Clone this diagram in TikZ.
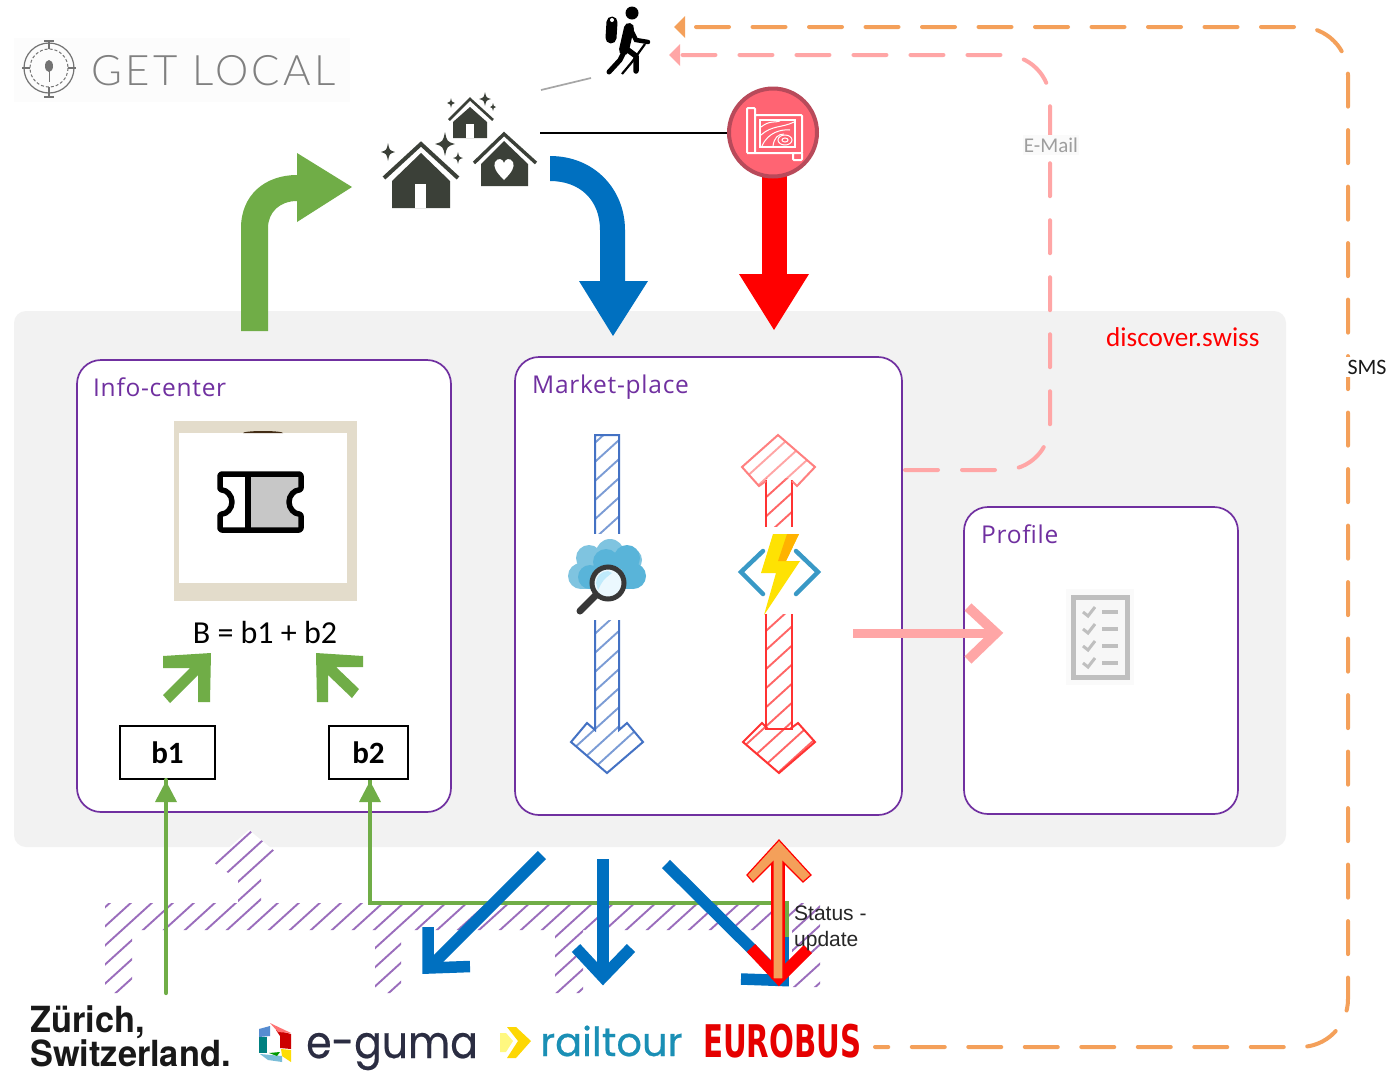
\documentclass[tikz,border=0pt]{standalone}
\usepackage{fontspec}
\usepackage{graphicx}
\setmainfont{Open Sans}
\newfontfamily\carl{Carlito}
\newfontfamily\lib{Liberation Sans}
\newfontfamily\openls[LetterSpace=3]{Open Sans}
\newfontfamily\latols[LetterSpace=8]{Lato Light}
\newfontfamily\popb[FakeBold=0.5]{Poppins}
\newfontfamily\heros{TeX Gyre Heros}
\newfontfamily\djv{DejaVu Sans}
\definecolor{purp}{HTML}{7030A0}
\definecolor{okgreen}{HTML}{70AD47}
\definecolor{okblue}{HTML}{0070C0}
\definecolor{hblue}{HTML}{4472C4}
\definecolor{orng}{HTML}{F4A05A}
\definecolor{pnk}{HTML}{FFA6A6}
\definecolor{house}{HTML}{3B4038}
\definecolor{panel}{HTML}{F2F2F2}
\definecolor{beige}{HTML}{E3DCCB}
\definecolor{mapfill}{HTML}{FF6473}
\definecolor{mapedge}{HTML}{B84A5A}
\definecolor{cloudA}{HTML}{7FC4E0}
\definecolor{cloudB}{HTML}{59B4D9}
\definecolor{fnblue}{HTML}{3999C6}
\definecolor{railc}{HTML}{1A8FB5}
\definecolor{gumac}{HTML}{2B2D42}
\tikzset{
  boxc/.style={draw=purp,line width=1.7pt,fill=white,rounded corners=24pt},
  boxlabel/.style={anchor=base west,inner sep=0pt,text=purp,font=\openls\fontsize{24.5}{27}\selectfont},
  valbox/.style={draw=black,line width=2pt,fill=white,inner sep=0pt,font=\carl\bfseries\fontsize{31}{33}\selectfont},
  dashorange/.style={draw=orng,line width=4pt,line cap=round,dash pattern=on 33pt off 23.5pt,rounded corners=48pt},
  dashpink/.style={draw=pnk,line width=4pt,line cap=round,dash pattern=on 33pt off 24pt,rounded corners=46pt},
  thickblue/.style={draw=okblue,line width=11.5pt,miter limit=10},
  greenline/.style={draw=okgreen,line width=4.2pt},
  hatchline/.style={line width=1.9pt},
  hroof/.style={draw=house,line width=4pt,miter limit=10},
}
% hatchfill{colour}{spacing}{path}
\newcommand{\hatchfill}[3]{%
  \begin{scope}\clip #3;
  \foreach \ii in {0,...,110}{%
    \pgfmathsetmacro{\xx}{-1010+\ii*#2}%
    \draw[hatchline,draw=#1,opacity=.7] (\xx,1100) -- ++(1100,-1000);}
  \end{scope}}
\newcommand{\sparkle}[4]{\fill[house] (#1-#3,#2) .. controls (#1-.2*#3,#2-.2*#4) .. (#1,#2-#4) .. controls (#1+.2*#3,#2-.2*#4) .. (#1+#3,#2) .. controls (#1+.2*#3,#2+.2*#4) .. (#1,#2+#4) .. controls (#1-.2*#3,#2+.2*#4) .. cycle;}
\newcommand{\bluearrow}{(595,435) -- (619,435) -- (619,730) -- (627,723) -- (643,742) -- (607,773) -- (571,742) -- (587,723) -- (595,730) -- cycle}
\newcommand{\redstem}{(766,478) rectangle (792,729)}
\newcommand{\redtop}{(778,435) -- (815,467) -- (797,486) -- (792,481) -- (766,481) -- (759,486) -- (742,467) -- cycle}
\newcommand{\redbot}{(743,742) -- (762,723) -- (768,729) -- (790,729) -- (798,723) -- (815,742) -- (779,773) -- cycle}
\begin{document}
\begin{tikzpicture}[x=1pt,y=-1pt,every node/.style={inner sep=0pt}]
\useasboundingbox (0,0) rectangle (1393,1072);
\fill[white] (0,0) rectangle (1393,1072);

% ---- Get Local logo
\fill[black!1.2] (14,38) rectangle (350,102);
\begin{scope}[draw=black!55]
\draw[line width=1.2pt] (49,68) circle (25);
\draw[line width=1pt,densely dashed] (49,68) circle (19);
\draw[line width=1.2pt] (22,68) -- (30,68) (68,68) -- (76,68) (49,41) -- (49,49) (49,87) -- (49,97) (44,41) -- (54,41) (44,97) -- (54,97);
\end{scope}
\fill[black!55] (49,66) ellipse (4 and 6);
\draw[black!55,line width=1pt] (49,70) -- (49,82);
\node[anchor=base west,text=black!50] (getlocal) at (91,85) {\latols\fontsize{42}{44}\selectfont GET LOCAL};

% ---- panel
\fill[panel,rounded corners=12pt] (14,311) rectangle (1286,847);

% ---- purple hatch
\fill[white] (249,830) -- (283,858) -- (261,875) -- (261,903) -- (238,903) -- (238,880) -- (213,862) -- cycle;
\hatchfill{purp}{21}{(249,830) -- (283,858) -- (261,875) -- (261,903) -- (238,903) -- (238,880) -- (213,862) -- cycle}
\hatchfill{purp}{21}{(105,903) rectangle (820,930) (105,930) rectangle (132,993) (375,930) rectangle (401,993) (555,930) rectangle (583,993) (792,930) rectangle (820,987)}

% ---- boxes
\draw[boxc] (77,360) rectangle (451,812);
\draw[boxc] (515,357) rectangle (902,815);
\draw[boxc] (964,507) rectangle (1238,814);
\node[boxlabel] (infolabel) at (93,396) {Info-center};
\node[boxlabel] (marketlabel) at (532,393) {Market-place};
\node[boxlabel] (profilelabel) at (981,543) {Profile};
\node[anchor=base west,text=red,font=\carl\fontsize{27.2}{29}\selectfont] (discover) at (1106,346) {discover.swiss};

% ---- ticket picture
\fill[beige] (174,421) rectangle (357,601);
\fill[white] (179,433) rectangle (347,583);
\fill[black!65!brown] (243,433) arc (180:360:20 and 2) -- cycle;
\fill[black!22,line join=round] (248,474) -- (301,474) -- (301,490) arc (-90:-270:12) -- (301,530) -- (248,530) -- cycle;
\draw[black,line width=5.5pt,line join=round,rounded corners=2pt]
  (220,474) -- (301,474) -- (301,490) arc (-90:-270:12) -- (301,530) -- (220,530) -- (220,514) arc (90:-90:12) -- cycle;
\draw[black,line width=5.5pt] (248,474) -- (248,530);
\node[font=\carl\fontsize{32}{34}\selectfont] (formula) at (265,632) {B = b1 + b2};

% ---- small green arrows
\fill[okgreen] (163,656) -- (211,653) -- (210,702) -- (198,702) -- (198,675) -- (170,703) -- (163,695) -- (190,668) -- (163,668) -- cycle;
\fill[okgreen] (316,653) -- (363,656) -- (363,667) -- (336,667) -- (359,689) -- (352,698) -- (328,675) -- (328,702) -- (317,702) -- cycle;

\node[valbox,minimum width=95pt,minimum height=53pt] (b1) at (167.5,752.5) {b1};
\node[valbox,minimum width=79pt,minimum height=53pt] (b2) at (368.5,752.5) {b2};

% ---- hatched arrows in market-place
\hatchfill{hblue}{21}{\bluearrow}
\draw[hblue,line width=2pt] \bluearrow;
\hatchfill{red!85}{21}{\redstem}
\hatchfill{red!50}{21}{\redtop}
\hatchfill{red!85}{21}{\redbot}
\draw[red!80,line width=1.7pt] (766,480) -- (766,729) -- (792,729) -- (792,480);
\draw[red!50,line width=2pt] (766,481) -- (759,486) -- (742,467) -- (778,435) -- (815,467) -- (797,486) -- (792,481);
\draw[red!80,line width=2pt] (768,729) -- (762,723) -- (743,742) -- (779,773) -- (815,742) -- (798,723) -- (790,729);
% cloud-search icon
\fill[white] (565,534) rectangle (650,620);
\fill[white] (735,527) rectangle (825,614);
\fill[cloudA] (581,576) circle (13) (589,558) circle (13) (610,553) circle (14) (630,560) circle (12);
\fill[cloudA] (581,570) rectangle (612,589);
\fill[cloudB] (606,562) circle (13) (627,558) circle (13) (633,576) circle (13) (590,577) circle (12);
\fill[cloudB] (590,572) rectangle (633,589);
\draw[black!78,line width=7pt,line cap=round] (596,595) -- (580,611);
\fill[white!92!cyan] (608,583) circle (15);
\fill[cyan!25] (596,583) arc (180:270:12) -- (612,573) .. controls (603,580) .. (598,590) -- cycle;
\draw[black!78,line width=5pt] (608,583) circle (16);
% function icon
\draw[fnblue,line width=4.5pt,line cap=round] (763,551) -- (741,572) -- (763,594);
\draw[fnblue,line width=4.5pt,line cap=round] (796,551) -- (818,572) -- (796,594);
\fill[yellow!85!orange] (773,534) -- (799,534) -- (786,561) -- (800,561) -- (764,615) -- (776,573) -- (761,573) -- cycle;
\fill[orange!60!yellow] (787,534) -- (799,534) -- (786,561) -- (800,561) -- (778,561) -- cycle;

% ---- profile icon
\fill[black!2] (1066,589) rectangle (1134,685);
\draw[black!25,line width=5pt,fill=white!97!black] (1073,597) rectangle (1127,677);
\foreach \yy in {612,629,646,663}{
  \draw[black!25,line width=3pt] (1083,\yy) -- (1088,\yy+4) -- (1095,\yy-5);
  \draw[black!25,line width=3.5pt] (1102,\yy) -- (1118,\yy);
}

% ---- big arrows
\fill[okgreen] (241,331) -- (241,228) .. controls (241,195) and (265,175) .. (297,175) -- (297,153) -- (352,187) -- (297,222) -- (297,201) .. controls (280,201) and (268,212) .. (268,228) -- (268,331) -- cycle;
\fill[okblue] (550,156) .. controls (595,156) and (625,190) .. (625,230) -- (625,281) -- (648,281) -- (613,336) -- (579,281) -- (600,281) -- (600,230) .. controls (600,200) and (580,181) .. (550,181) -- cycle;
\fill[red] (762,170) rectangle (787,274);
\fill[red] (739,274) -- (809,274) -- (774,330) -- cycle;

% ---- map circle
\node[circle,minimum size=88pt,draw=mapedge,line width=4pt,fill=mapfill] (mapc) at (773,132.5) {};
\coordinate (houseE) at (540,132.5);
\draw[black,line width=2pt] (houseE) -- (mapc.west);
\begin{scope}[draw=white]
\draw[line width=2pt,rounded corners=1pt] (756,153) -- (747,153) -- (747,108) -- (755,108) -- (755,153) (755,115) -- (802,115) -- (802,153) -- (747,153) (793,153) -- (793,160) -- (802,160) -- (802,153);
\draw[line width=1.3pt] (760,120) rectangle (795,147);
\draw[line width=1pt] (761,127) .. controls (770,120) and (775,123) .. (780,121) (761,135) .. controls (772,125) and (782,128) .. (794,122) (762,146) .. controls (768,132) and (782,129) .. (790,130) (773,146) .. controls (774,138) and (778,134) .. (784,134);
\draw[line width=1pt] (785,140) ellipse (7 and 5) (785,140) ellipse (3 and 2);
\end{scope}

% ---- hiker
\fill[black] (632,13) circle (6.5);
\draw[black,line width=11pt,line cap=round] (612,22) -- (611,38);
\fill[white] (612,20) circle (2);
\draw[black,line width=10pt,line cap=round] (629,28) -- (624,50);
\draw[black,line width=5pt,line cap=round,line join=round] (624,52) -- (620,60) -- (609,72);
\draw[black,line width=5.5pt,line cap=round,line join=round] (628,50) -- (636,56) -- (636,71);
\draw[black,line width=4.5pt,line cap=round] (631,30) -- (636,40) -- (648,42);
\draw[black,line width=2.2pt] (645,44) -- (632,62) -- (622,74);
\coordinate (grayA) at (541,90);
\coordinate (grayB) at (591,78);
\draw[black!35,line width=1.7pt] (grayA) -- (grayB);

% ---- houses
\fill[house] (421,153) -- (450,181) -- (450,208) -- (392,208) -- (392,181) -- cycle;
\fill[white] (415,184) rectangle (426,208);
\draw[hroof] (384,178) -- (421,144) -- (458,178);
\fill[house] (470,107) -- (487,122) -- (487,138) -- (453,138) -- (453,122) -- cycle;
\fill[white] (466,124) rectangle (474,138);
\draw[hroof,line width=2.6pt] (449,120) -- (470,99) -- (493,120);
\fill[house] (504,141) -- (528,164) -- (528,186) -- (481,186) -- (481,164) -- cycle;
\draw[hroof,line width=3.4pt] (474,163) -- (504,134) -- (536,163);
\fill[white] (504,180) .. controls (496,172) and (493,167) .. (495,162) .. controls (498,157) and (503,159) .. (504,163) .. controls (505,159) and (510,157) .. (513,162) .. controls (515,167) and (512,172) .. (504,180) -- cycle;
\sparkle{388}{152}{7}{9}
\sparkle{445}{144}{10}{12}
\sparkle{458}{158}{5}{6}
\sparkle{451}{103}{4}{5}
\sparkle{485}{99}{6}{7}
\sparkle{493}{107}{3}{4}

% ---- dashed connectors
\coordinate (orS) at (875,1047);
\coordinate (orC1) at (1348,1047);
\coordinate (orC2) at (1348,27);
\coordinate (orE) at (696,27);
\draw[dashorange] (orE) -- (orC2) -- (orC1) -- (orS);
\fill[orng] (674,27) -- (685,16) -- (685,38) -- cycle;
\coordinate (piS) at (905,470);
\coordinate (piC1) at (1050,470);
\coordinate (piC2) at (1050,55);
\coordinate (piE) at (680,55);
\draw[dashpink] (piS) -- (piC1) -- (piC2) -- (piE);
\fill[pnk] (669,55) -- (680,44) -- (680,66) -- cycle;
\node[fill=black!2,inner xsep=1pt,inner ysep=3pt,text=black!38,font=\carl\fontsize{21}{23}\selectfont] (email) at (1051,145) {E-Mail};
\node[fill=white,inner xsep=3pt,inner ysep=3pt,text=black!90,font=\carl\fontsize{22}{24}\selectfont] (sms) at (1367,367) {SMS};

% ---- pink arrow to Profile
\coordinate (pkS) at (853,633);
\coordinate (pkE) at (996,633);
\draw[draw=pnk,line width=9pt] (pkS) -- (pkE);
\draw[draw=pnk,line width=10pt,miter limit=10] (968,607) -- (996,633) -- (968,660);

% ---- green connectors
\coordinate (zu) at (166,993);
\coordinate (ju) at (778,903);
\coordinate (jc) at (370,903);
\draw[greenline,line cap=round] (zu) -- (b1.south -| zu);
\fill[okgreen] (166,781) -- (177,802) -- (155,802) -- cycle;
\draw[greenline] (ju) -- (jc) -- (b2.south -| jc);
\fill[okgreen] (370,781) -- (381,802) -- (359,802) -- cycle;
\draw[greenline] (ju) -- (787,903) -- (787,945);

% ---- blue arrows
\draw[thickblue] (542,855) -- (430,967);
\draw[thickblue] (428,927) -- (428,968) -- (470,966.5);
\draw[thickblue] (603,859) -- (603,975);
\draw[thickblue] (576,948) -- (603,977) -- (631,948);
\draw[thickblue] (666,864) -- (783,980);
\draw[thickblue] (741,979) -- (783,980.5) -- (783,937);
% red / orange arrow
\draw[draw=red,line width=11.5pt,miter limit=10] (751,948) -- (779,978) -- (808,949);
\fill[red] (771,858) rectangle (785,979);
\fill[orng,draw=red,line width=1.2pt] (779,840) -- (811,875) -- (803,882) -- (783,862) -- (783,979) -- (773,979) -- (773,862) -- (753,882) -- (747,875) -- cycle;
\node[anchor=north west,align=left,text=black!85,font=\lib\fontsize{21}{26}\selectfont] (status) at (794,906) {Status -\\update};

% ---- logos
\node[anchor=base west,font=\heros\bfseries\fontsize{36}{38}\selectfont,text=black!90] (zh1) at (30,1032) {\scalebox{.955}[1]{Zürich,}};
\node[anchor=base west,font=\heros\bfseries\fontsize{36}{38}\selectfont,text=black!90] (zh2) at (30,1066.5) {\scalebox{.955}[1]{Switzerland.}};
\fill[red!80!black] (276,1030) -- (291,1034) -- (291,1049) -- (280,1048) -- (280,1036) -- cycle;
\fill[pink!60!red] (270,1023) -- (291,1033) -- (278,1032) -- cycle;
\fill[cyan!50!blue!70] (259,1029) -- (270,1026) -- (270,1036) -- (259,1037) -- cycle;
\fill[teal] (259,1037) -- (267,1037) -- (267,1053) -- (259,1053) -- cycle;
\fill[cyan!50!teal!60] (260,1054) -- (282,1056) -- (282,1062) -- (268,1060) -- cycle;
\fill[yellow!80!orange] (281,1049) -- (291,1050) -- (291,1062) -- (282,1056) -- cycle;
\fill[green!60!black] (269,1053) -- (280,1052) -- (277,1056) -- cycle;
\node[anchor=base west,font=\popb\fontsize{45}{47}\selectfont,text=gumac] (eguma) at (306,1058) {\scalebox{.91}[1]{e-guma}};
\fill[yellow!75!orange] (507,1027) -- (516,1027) -- (531,1041) -- (516,1058) -- (507,1058) -- (518,1041) -- cycle;
\fill[yellow!50] (500,1033) -- (506,1033) -- (513,1041) -- (506,1052) -- (500,1052) -- cycle;
\node[anchor=base west,font=\popb\fontsize{40}{42}\selectfont,text=railc] (railtour) at (540,1056) {railtour};
\node[anchor=base west,font=\djv\bfseries\fontsize{45}{47}\selectfont,text=red!90!black] (eurobus) at (703,1057) {\scalebox{.65}[1]{EUROBUS}};
\end{tikzpicture}
\end{document}
